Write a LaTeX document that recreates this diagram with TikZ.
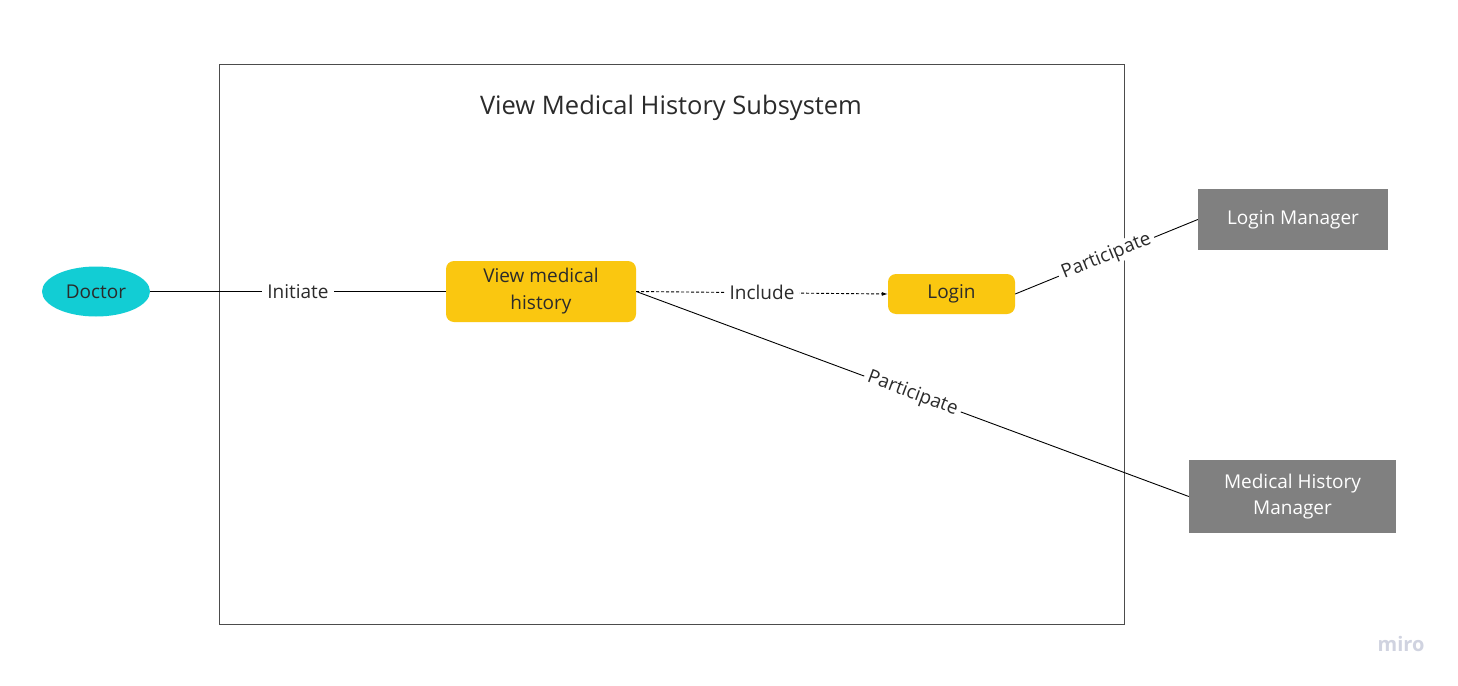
\documentclass[tikz,border=0pt]{standalone}
\usepackage{fontspec}
\setmainfont{Open Sans}
\usetikzlibrary{arrows.meta,shapes.geometric}
\definecolor{actorcyan}{HTML}{12CDD4}
\definecolor{caseyellow}{HTML}{FAC710}
\definecolor{mgrgray}{HTML}{808080}
\definecolor{txtdark}{HTML}{2B2B2B}
\definecolor{miroc}{HTML}{D0D3E0}
\tikzset{
  lbl/.style={font=\fontsize{19}{27}\selectfont, text=txtdark},
  actor/.style={ellipse, fill=actorcyan, minimum width=108pt, minimum height=50pt, inner sep=0pt, lbl},
  usecase/.style={rounded corners=8pt, fill=caseyellow, inner sep=0pt, lbl, align=center},
  manager/.style={fill=mgrgray, inner sep=0pt, font=\fontsize{19}{26}\selectfont, text=white, align=center},
  conn/.style={draw=black, line width=0.9pt},
  elabel/.style={fill=white, inner xsep=5pt, inner ysep=3pt, lbl}
}
\begin{document}
\begin{tikzpicture}[x=1pt,y=-1pt]
\useasboundingbox[fill=white] (0,0) rectangle (1458,685);
\node[draw=black!70, line width=0.9pt, minimum width=905pt, minimum height=560pt, inner sep=0pt] (sys) at (671.5,344) {};
\node[font=\fontsize{25.5}{30}\selectfont, text=txtdark] (title) at (671,108) {View Medical History Subsystem};
\node[actor] (doctor) at (96,291.5) {Doctor};
\node[usecase, minimum width=190pt, minimum height=61pt] (vmh) at (541,291.5) {View medical\\history};
\node[usecase, minimum width=127pt, minimum height=40pt] (login) at (951.5,294) {Login};
\node[manager, minimum width=190pt, minimum height=61pt] (lm) at (1293,219.5) {Login Manager};
\node[manager, minimum width=207pt, minimum height=73pt] (mhm) at (1292.5,496.5) {Medical History\\Manager};
\draw[conn] (doctor.east) -- node[elabel] {Initiate} (vmh.west);
\draw[conn, dash pattern=on 3pt off 2pt, -{Latex[length=6pt,width=4pt]}] (vmh.east) -- node[elabel] {Include} (login.west);
\draw[conn] (login.east) -- node[elabel, sloped, inner xsep=4pt, inner ysep=1pt] {Participate} (lm.west);
\draw[conn] (vmh.east) -- node[elabel, sloped, inner xsep=4pt, inner ysep=1pt] {Participate} (mhm.west);
\node[font=\fontsize{20}{24}\selectfont\bfseries, text=miroc] (miro) at (1401,644) {miro};
\end{tikzpicture}
\end{document}
